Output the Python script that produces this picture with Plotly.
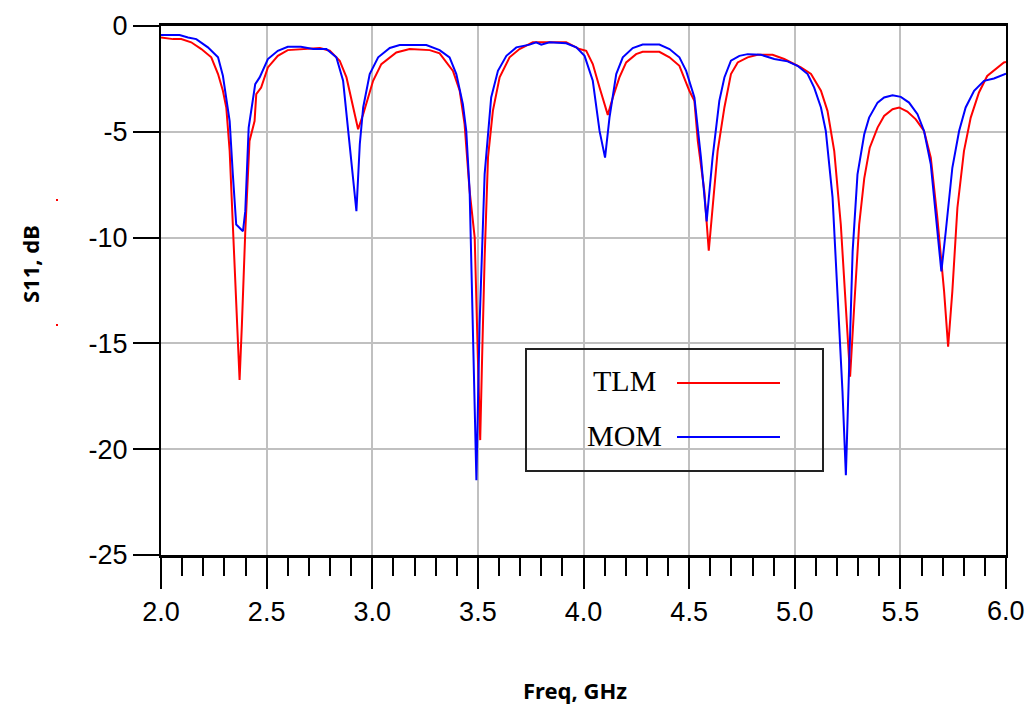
import plotly.graph_objects as go

# ---------------- data ----------------
tlm_freq = [2.000, 2.057, 2.096, 2.143, 2.191, 2.238, 2.270, 2.293, 2.309, 2.325, 2.340, 2.356, 2.372, 2.383,
            2.399, 2.419, 2.443, 2.451, 2.474, 2.506, 2.553, 2.600, 2.663, 2.752, 2.799, 2.846, 2.878, 2.909,
            2.933, 2.957, 2.972, 3.004, 3.043, 3.114, 3.177, 3.272, 3.319, 3.343, 3.382, 3.414, 3.437, 3.461,
            3.485, 3.500, 3.511, 3.520, 3.532, 3.548, 3.571, 3.603, 3.650, 3.697, 3.760, 3.918, 3.981, 4.013,
            4.044, 4.076, 4.115, 4.139, 4.170, 4.202, 4.249, 4.280, 4.359, 4.407, 4.454, 4.501, 4.525, 4.541,
            4.572, 4.593, 4.611, 4.635, 4.667, 4.698, 4.730, 4.777, 4.824, 4.895, 4.950, 5.029, 5.077, 5.124,
            5.155, 5.187, 5.218, 5.242, 5.262, 5.281, 5.305, 5.329, 5.355, 5.392, 5.423, 5.463, 5.494, 5.533,
            5.573, 5.612, 5.644, 5.675, 5.707, 5.726, 5.746, 5.770, 5.801, 5.833, 5.872, 5.911, 5.950, 5.990,
            6.000]
tlm_s11 = [-0.54, -0.62, -0.62, -0.77, -1.09, -1.48, -2.27, -3.06, -3.85, -5.90, -9.38, -13.30, -16.73, -14.10,
           -9.70, -5.43, -4.49, -3.22, -2.91, -1.96, -1.41, -1.14, -1.09, -1.04, -1.17, -1.64, -2.43, -3.85,
           -4.88, -4.17, -3.70, -2.59, -1.80, -1.25, -1.09, -1.14, -1.29, -1.60, -2.12, -3.06, -4.64, -7.80,
           -10.00, -15.70, -19.57, -15.70, -10.95, -6.20, -4.01, -2.43, -1.48, -1.09, -0.77, -0.77, -1.09, -1.17,
           -1.80, -2.91, -4.20, -3.38, -2.43, -1.72, -1.33, -1.22, -1.22, -1.48, -1.88, -3.06, -3.54, -5.43,
           -7.80, -10.62, -8.75, -5.91, -3.85, -2.27, -1.72, -1.48, -1.36, -1.36, -1.56, -1.96, -2.27, -3.06,
           -4.01, -5.91, -9.38, -13.33, -16.57, -13.33, -9.38, -7.20, -5.75, -4.80, -4.25, -3.93, -3.85, -4.04,
           -4.41, -4.96, -6.22, -9.07, -12.54, -15.15, -12.54, -8.59, -5.91, -4.33, -3.14, -2.36, -2.04, -1.72,
           -1.70]

mom_freq = [2.000, 2.088, 2.128, 2.167, 2.222, 2.270, 2.293, 2.309, 2.325, 2.340, 2.356, 2.388, 2.399, 2.415,
            2.446, 2.467, 2.506, 2.553, 2.600, 2.662, 2.720, 2.783, 2.830, 2.862, 2.894, 2.925, 2.941, 2.957,
            2.988, 3.028, 3.083, 3.130, 3.256, 3.319, 3.366, 3.398, 3.429, 3.445, 3.461, 3.477, 3.493, 3.508,
            3.532, 3.563, 3.595, 3.635, 3.682, 3.745, 3.776, 3.800, 3.839, 3.918, 3.966, 4.005, 4.044, 4.076,
            4.102, 4.123, 4.155, 4.186, 4.233, 4.280, 4.359, 4.407, 4.454, 4.486, 4.525, 4.556, 4.583, 4.611,
            4.643, 4.667, 4.698, 4.738, 4.777, 4.840, 4.903, 4.966, 5.013, 5.061, 5.092, 5.124, 5.147, 5.179,
            5.203, 5.226, 5.242, 5.258, 5.274, 5.297, 5.329, 5.352, 5.392, 5.423, 5.463, 5.502, 5.541, 5.581,
            5.612, 5.644, 5.667, 5.694, 5.715, 5.746, 5.778, 5.809, 5.849, 5.896, 5.943, 5.990, 6.000]
mom_s11 = [-0.43, -0.43, -0.54, -0.62, -1.01, -1.48, -2.35, -3.38, -4.49, -7.00, -9.38, -9.70, -8.75, -4.80,
           -2.75, -2.43, -1.56, -1.17, -0.98, -0.98, -1.09, -1.09, -1.48, -2.59, -5.59, -8.75, -5.59, -3.85,
           -2.27, -1.48, -1.04, -0.90, -0.90, -1.14, -1.48, -2.27, -3.70, -4.96, -7.80, -14.10, -21.47, -14.10,
           -7.00, -3.38, -2.12, -1.41, -1.01, -0.88, -0.77, -0.88, -0.77, -0.82, -1.01, -1.41, -2.59, -4.96,
           -6.22, -4.33, -2.27, -1.48, -1.04, -0.88, -0.88, -1.09, -1.48, -2.12, -3.38, -6.22, -9.23, -6.22,
           -3.54, -2.43, -1.64, -1.41, -1.33, -1.36, -1.56, -1.67, -1.88, -2.27, -2.91, -3.85, -4.96, -8.10,
           -12.54, -17.28, -21.23, -15.70, -10.65, -7.01, -5.12, -4.33, -3.62, -3.38, -3.27, -3.35, -3.62, -4.17,
           -4.96, -6.54, -8.75, -11.60, -9.70, -6.70, -4.96, -3.85, -3.06, -2.59, -2.48, -2.27, -2.25]

x_ticks = [2.0, 2.5, 3.0, 3.5, 4.0, 4.5, 5.0, 5.5, 6.0]
x_tick_labels = ["2.0", "2.5", "3.0", "3.5", "4.0", "4.5", "5.0", "5.5", "6.0"]
y_ticks = [0, -5, -10, -15, -20, -25]
y_tick_labels = ["0", "-5", "-10", "-15", "-20", "-25"]

series_names = ["TLM", "MOM"]
series_colors = ["#ff0000", "#0000ff"]

# ---------------- figure ----------------
W, H = 1029, 707
L, R, T, B = 161, 23, 26, 152
pw, ph = W - L - R, H - T - B

def px(xp):
    return (xp - L) / pw

def py(yp):
    return (H - B - yp) / ph

fig = go.Figure()
fig.add_trace(go.Scatter(x=tlm_freq, y=tlm_s11, mode="lines", name=series_names[0],
                         line=dict(color=series_colors[0], width=2), showlegend=False))
fig.add_trace(go.Scatter(x=mom_freq, y=mom_s11, mode="lines", name=series_names[1],
                         line=dict(color=series_colors[1], width=2), showlegend=False))

tick_font = dict(family="Liberation Sans, Arial, sans-serif", size=27, color="black")

# the last x label (at the right edge) is drawn as an annotation so it can run to the page edge
shown_x_labels = x_tick_labels[:-1] + [""]

fig.update_xaxes(range=[2, 6], tickvals=x_ticks, ticktext=shown_x_labels,
                 ticks="outside", ticklen=31, tickwidth=2, tickcolor="black",
                 showline=True, linecolor="black", linewidth=3, mirror=True,
                 showgrid=True, gridcolor="#c0c0c0", gridwidth=2,
                 minor=dict(dtick=0.1, ticks="outside", ticklen=18, tickwidth=2,
                            tickcolor="black", showgrid=False),
                 tickfont=tick_font, zeroline=False)
fig.update_yaxes(range=[-25, 0], tickvals=y_ticks, ticktext=y_tick_labels,
                 ticks="outside", ticklen=26, tickwidth=2, tickcolor="black",
                 showline=True, linecolor="black", linewidth=2, mirror=True,
                 showgrid=True, gridcolor="#c0c0c0", gridwidth=2,
                 tickfont=tick_font, zeroline=False)

shapes = []
# legend white background (hides gridlines)
shapes.append(dict(type="rect", xref="paper", yref="paper",
                   x0=px(513), x1=px(831), y0=py(488), y1=py(343),
                   fillcolor="white", line=dict(width=0), layer="between"))
# legend border
shapes.append(dict(type="rect", xref="paper", yref="paper",
                   x0=px(526), x1=px(823), y0=py(471), y1=py(349),
                   fillcolor="rgba(0,0,0,0)", line=dict(color="#222222", width=2), layer="above"))
# legend sample lines
for yy, c in zip([383, 437], series_colors):
    shapes.append(dict(type="line", xref="paper", yref="paper",
                       x0=px(677), x1=px(780), y0=py(yy), y1=py(yy),
                       line=dict(color=c, width=2), layer="above"))
# small red specks in left margin
for yy in [200, 325]:
    shapes.append(dict(type="rect", xref="paper", yref="paper",
                       x0=px(56), x1=px(58), y0=py(yy + 1), y1=py(yy - 1),
                       fillcolor="red", line=dict(width=0), layer="above"))

annotations = []
annotations.append(dict(xref="x", yref="paper", x=x_ticks[-1], y=py(611), text=x_tick_labels[-1],
                        showarrow=False, xanchor="center", yanchor="middle", font=tick_font))
legend_font = dict(family="Liberation Serif, Times New Roman, serif", size=30, color="black")
for yy, name in zip([380, 435], series_names):
    annotations.append(dict(xref="paper", yref="paper", x=px(624), y=py(yy), text=name,
                            showarrow=False, xanchor="center", yanchor="middle", font=legend_font))
title_font = dict(family="Noto Sans, Open Sans, sans-serif", size=22, color="black")
annotations.append(dict(xref="paper", yref="paper", x=px(575), y=py(690), text="<b>Freq, GHz</b>",
                        showarrow=False, xanchor="center", yanchor="middle", font=title_font))
annotations.append(dict(xref="paper", yref="paper", x=px(30), y=py(264), text="<b>S11, dB</b>",
                        showarrow=False, xanchor="center", yanchor="middle", textangle=-90, font=title_font))

fig.update_layout(width=W, height=H, margin=dict(l=L, r=R, t=T, b=B),
                  paper_bgcolor="white", plot_bgcolor="white",
                  shapes=shapes, annotations=annotations, showlegend=False)

fig.write_html("out.html")
